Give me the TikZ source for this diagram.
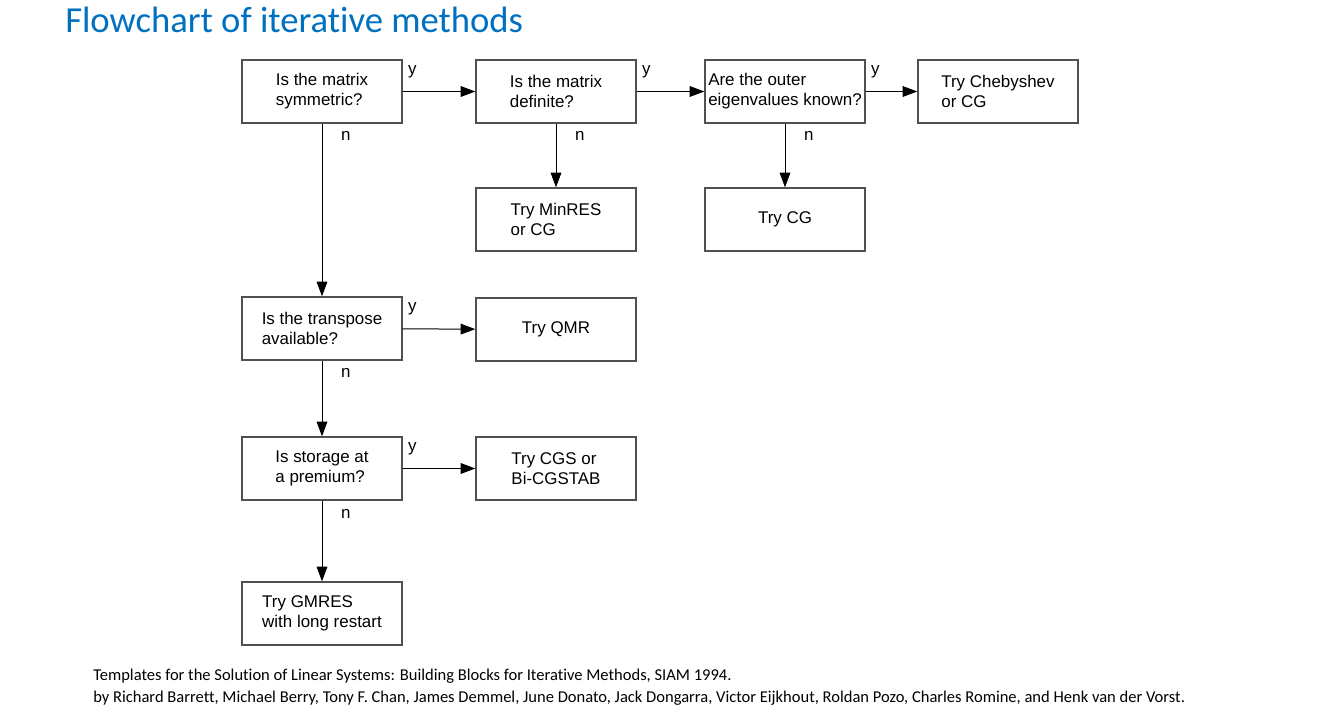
\documentclass[tikz,border=0pt]{standalone}
\usepackage{fontspec}
\setmainfont{Liberation Sans}
\newfontfamily\notefont[Ligatures=NoCommon]{Carlito}
\usetikzlibrary{arrows.meta}
\definecolor{titleblue}{RGB}{0,112,192}
\definecolor{boxgray}{RGB}{80,80,80}
\tikzset{
  box/.style={draw=boxgray,line width=1pt,minimum width=120pt,minimum height=47.25pt,
    inner sep=0pt,align=left,font=\fontsize{12.7}{15}\selectfont},
  flow/.style={-{Triangle[length=11pt,width=8pt]},line width=0.75pt},
  ylab/.style={pos=0,anchor=base west,inner sep=0pt,xshift=3.75pt,yshift=13pt,
    font=\fontsize{12.7}{15}\selectfont},
  nlab/.style={pos=0,anchor=base west,inner sep=0pt,xshift=14pt,yshift=-13pt,
    font=\fontsize{12.7}{15}\selectfont}
}
\begin{document}
\begin{tikzpicture}[x=0.75pt,y=-0.75pt]
  \useasboundingbox (0,0) rectangle (1322,713);
  \node[anchor=base west,inner sep=0pt,text=titleblue,font=\notefont\fontsize{27.5}{33}\selectfont] (title) at (65,33) {Flowchart of iterative methods};

  \node[box] (sym) at (322,91.5) {Is the matrix\\symmetric?};
  \node[box] (def) at (556,91.5) {Is the matrix\\definite?};
  \node[box] (eig) at (785,91.5) {Are the outer\\eigenvalues known?};
  \node[box] (cheb) at (998,91.5) {Try Chebyshev\\or CG};
  \node[box] (minres) at (556,219.5) {Try MinRES\\or CG};
  \node[box] (cg) at (785,219.5) {Try CG};
  \node[box] (trans) at (322,328.5) {Is the transpose\\available?};
  \node[box] (qmr) at (556,329.5) {Try QMR};
  \node[box] (store) at (322,468.5) {Is storage at\\a premium?};
  \node[box] (cgs) at (556,468.5) {Try CGS or\\Bi-CGSTAB};
  \node[box] (gmres) at (322,613.5) {Try GMRES\\with long restart};

  \draw[flow] (sym) -- node[ylab]{y} (def);
  \draw[flow] (def) -- node[ylab]{y} (eig);
  \draw[flow] (eig) -- node[ylab]{y} (cheb);
  \draw[flow] (def) -- node[nlab]{n} (minres);
  \draw[flow] (eig) -- node[nlab]{n} (cg);
  \draw[flow] (sym) -- node[nlab]{n} (trans);
  \draw[flow] (trans) -- node[ylab]{y} (qmr);
  \draw[flow] (trans) -- node[nlab]{n} (store);
  \draw[flow] (store) -- node[ylab]{y} (cgs);
  \draw[flow] (store) -- node[nlab]{n} (gmres);

  \node[anchor=base west,inner sep=0pt,font=\notefont\fontsize{12.4}{15}\selectfont] (cite) at (93,680) {Templates for the Solution of Linear Systems: Building Blocks for Iterative Methods, SIAM 1994.};
  \node[anchor=base west,inner sep=0pt,font=\notefont\fontsize{12.4}{15}\selectfont] (authors) at (93,702) {by Richard Barrett, Michael Berry, Tony F. Chan, James Demmel, June Donato, Jack Dongarra, Victor Eijkhout, Roldan Pozo, Charles Romine, and Henk van der Vorst.};
\end{tikzpicture}
\end{document}
